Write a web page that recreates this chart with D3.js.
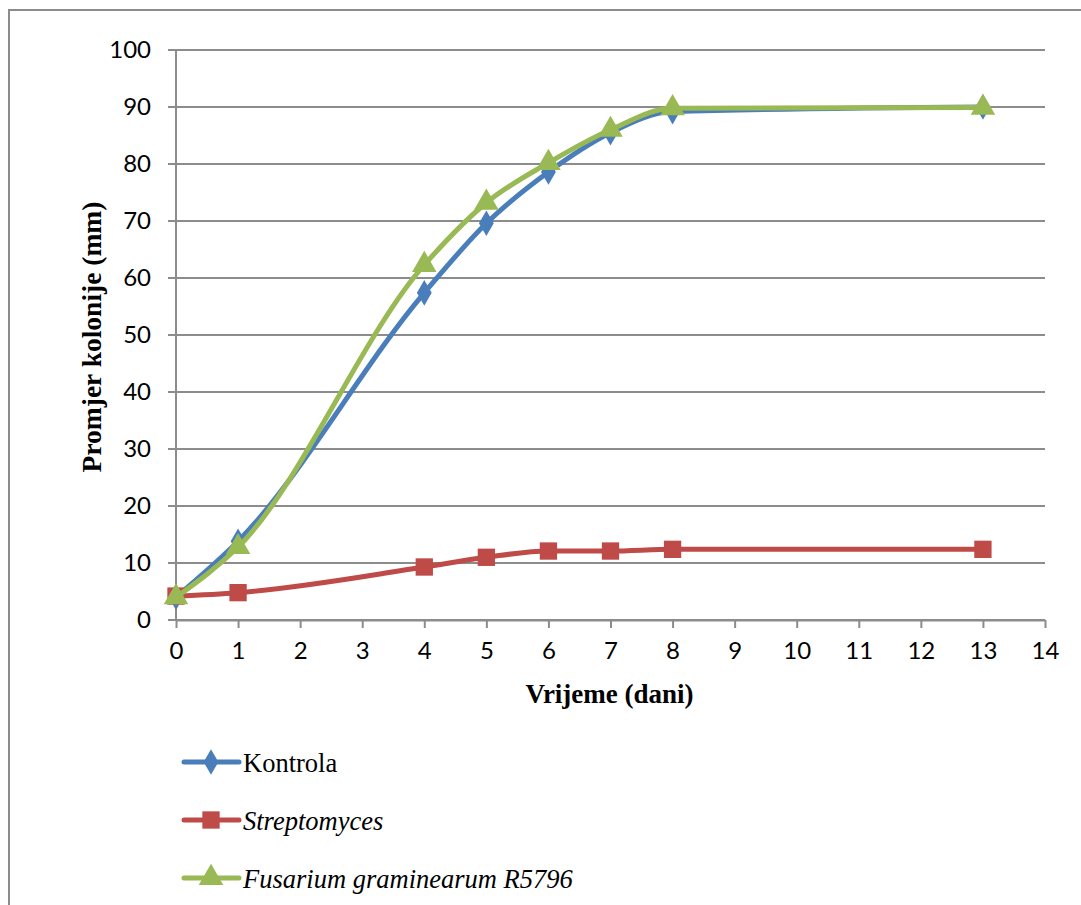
<!DOCTYPE html>
<html>
<head>
<meta charset="utf-8">
<script src="https://cdn.jsdelivr.net/npm/d3@7"></script>
<style>
  body { margin: 0; background: #fff; }
  svg { display: block; }
  .serif { font-family: "Liberation Serif", "Times New Roman", serif; }
</style>
</head>
<body>
<div id="chart"></div>
<script>
// days and colony diameter (mm)
const days = [0, 1, 4, 5, 6, 7, 8, 13];
const kontrola = [4.0, 13.8, 57.4, 69.6, 78.6, 85.5, 89.2, 90.0];
const streptomyces = [4.2, 4.8, 9.3, 11.0, 12.1, 12.1, 12.4, 12.4];
const fusarium = [4.0, 12.8, 62.3, 73.2, 80.2, 86.0, 89.8, 89.9];
const xTicks = d3.range(0, 15);
const yTicks = d3.range(0, 101, 10);
const seriesNames = ["Kontrola", "Streptomyces", "Fusarium graminearum R5796"];

const W = 1081, H = 905;
const margin = {top: 50, left: 176, right: 36, bottom: 285};
const width = W - margin.left - margin.right;
const height = H - margin.top - margin.bottom;

const svg = d3.select("#chart").append("svg")
  .attr("width", W)
  .attr("height", H);

// outer frame
svg.append("rect")
  .attr("x", 9).attr("y", 10)
  .attr("width", W + 20).attr("height", H + 20)
  .attr("fill", "none")
  .attr("stroke", "#8c8c8c")
  .attr("stroke-width", 2);

const g = svg.append("g")
  .attr("transform", `translate(${margin.left},${margin.top})`);

const x = d3.scaleLinear().domain([0, 14]).range([0, width]);
const y = d3.scaleLinear().domain([0, 100]).range([height, 0]);

// gridlines
g.append("g")
  .selectAll("line")
  .data(yTicks)
  .join("line")
  .attr("x1", -8).attr("x2", width)
  .attr("y1", d => y(d)).attr("y2", d => y(d))
  .attr("stroke", "#8c8c8c")
  .attr("stroke-width", 2);

const xAxis = g.append("g")
  .attr("transform", `translate(0,${height})`)
  .call(d3.axisBottom(x).tickValues(xTicks).tickSize(8).tickPadding(14).tickSizeOuter(0));

const yAxis = g.append("g")
  .call(d3.axisLeft(y).tickValues(yTicks).tickSize(0).tickPadding(25));

[xAxis, yAxis].forEach(a => {
  a.selectAll("path, line").attr("stroke", "#8c8c8c").attr("stroke-width", 2);
  a.selectAll("text")
    .attr("fill", "#000")
    .attr("font-family", "Lato, 'Noto Sans', sans-serif")
    .attr("font-size", 24);
});
yAxis.select(".domain").remove();
g.append("line")
  .attr("x1", 0).attr("x2", 0).attr("y1", 0).attr("y2", height)
  .attr("stroke", "#8c8c8c").attr("stroke-width", 2);

// axis titles
svg.append("text")
  .attr("class", "serif")
  .attr("x", margin.left + width / 2 - 1).attr("y", 703)
  .attr("text-anchor", "middle")
  .attr("font-weight", "bold")
  .attr("font-size", 27)
  .text("Vrijeme (dani)");

svg.append("text")
  .attr("class", "serif")
  .attr("transform", `translate(101,${margin.top + height / 2 + 2}) rotate(-90)`)
  .attr("text-anchor", "middle")
  .attr("font-weight", "bold")
  .attr("font-size", 27.5)
  .text("Promjer kolonije (mm)");

const series = [
  {name: seriesNames[0], values: kontrola, color: "#4a7ebb", shape: d3.symbolDiamond, size: 190, italic: false},
  {name: seriesNames[1], values: streptomyces, color: "#be4b48", shape: d3.symbolSquare, size: 300, italic: true},
  {name: seriesNames[2], values: fusarium, color: "#98b954", shape: d3.symbolTriangle, size: 260, italic: true}
];

const line = d3.line()
  .x((d, i) => x(days[i]))
  .y(d => y(d))
  .curve(d3.curveMonotoneX);

series.forEach(s => {
  g.append("path")
    .datum(s.values)
    .attr("d", line)
    .attr("fill", "none")
    .attr("stroke", s.color)
    .attr("stroke-width", 5)
    .attr("stroke-linejoin", "round");

  g.selectAll(null)
    .data(s.values)
    .join("path")
    .attr("transform", (d, i) => `translate(${x(days[i])},${y(d)})`)
    .attr("d", d3.symbol().type(s.shape).size(s.size))
    .attr("fill", s.color);
});

// legend
const legend = svg.append("g");
series.forEach((s, i) => {
  const ly = 762 + i * 58;
  legend.append("line")
    .attr("x1", 184).attr("x2", 239)
    .attr("y1", ly).attr("y2", ly)
    .attr("stroke", s.color)
    .attr("stroke-width", 5)
    .attr("stroke-linecap", "round");
  legend.append("path")
    .attr("transform", `translate(211,${ly})`)
    .attr("d", d3.symbol().type(s.shape).size(s.size))
    .attr("fill", s.color);
  legend.append("text")
    .attr("class", "serif")
    .attr("x", 243).attr("y", ly + 10)
    .attr("font-size", 26.5)
    .attr("font-style", s.italic ? "italic" : "normal")
    .text(s.name);
});
</script>
</body>
</html>
